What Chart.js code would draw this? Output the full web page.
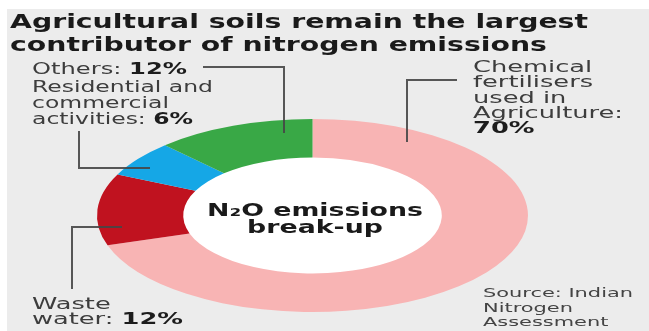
<!DOCTYPE html>
<html>
<head>
<meta charset="utf-8">
<script src="https://cdn.jsdelivr.net/npm/chart.js@4.4.1/dist/chart.umd.min.js"></script>
<style>
    html, body { margin: 0; padding: 0; background: #ffffff; }
    #wrap { position: relative; width: 649px; height: 331px; overflow: hidden; background: #ffffff; }
    #panel { position: absolute; left: 7px; top: 9px; right: 0; bottom: 0; background: #ececec; }
    #chartBox { position: absolute; left: 0; top: 0; width: 649px; height: 331px; }
    .txt { position: absolute; white-space: nowrap; font-family: "DejaVu Sans", sans-serif; color: #3d3d3d; transform-origin: 0 0; }
    .txt b { color: #1c1c1c; }
    .txt div { white-space: nowrap; }
</style>
</head>
<body>
<div id="wrap">
    <div id="panel"></div>
    <div id="chartBox"><canvas id="n2oChart"></canvas></div>
</div>
<script>
    // data
    const sliceNames = ["Chemical fertilisers used in Agriculture", "Waste water", "Residential and commercial activities", "Others"];
    const sliceShares = [70, 12, 6, 12];
    const sliceColors = ["#f8b4b4", "#c0121f", "#15a7e6", "#39a846"];
    const sliceLabelLines = [
        ["Chemical", "fertilisers", "used in", "Agriculture:", "{v}"],
        ["Waste", "water: {v}"],
        ["Residential and", "commercial", "activities: {v}"],
        ["Others: {v}"],
    ];
    const titleLines = ["Agricultural soils remain the largest", "contributor of nitrogen emissions"];
    const centerLines = ["N\u2082O emissions", "break-up"];
    const sourceLines = ["Source: Indian", "Nitrogen", "Assessment"];

    // the doughnut in the picture is squeezed into an ellipse
    const stretchX = 2.233;

    const wrap = document.getElementById("wrap");

    function addText(lines, opt) {
        const el = document.createElement("div");
        el.className = "txt";
        el.style.left = opt.left + "px";
        el.style.top = opt.top + "px";
        el.style.fontSize = opt.size + "px";
        el.style.lineHeight = opt.lineHeight + "px";
        el.style.fontWeight = opt.bold ? "bold" : "normal";
        el.style.textAlign = opt.align || "left";
        if (opt.color) el.style.color = opt.color;
        lines.forEach(function (line) {
            const row = document.createElement("div");
            row.innerHTML = line;
            el.appendChild(row);
        });
        wrap.appendChild(el);
        const natural = el.getBoundingClientRect().width;
        const k = opt.width / natural;
        if (opt.align === "center") {
            el.style.left = (opt.left - opt.width / 2) + "px";
        }
        el.style.transform = "scaleX(" + k + ")";
        return el;
    }

    function labelFor(i) {
        return sliceLabelLines[i].map(function (line) {
            return line.replace("{v}", "<b>" + sliceShares[i] + "%</b>");
        });
    }

    addText(titleLines, { left: 10, top: 10, size: 19, lineHeight: 23, bold: true, width: 578, color: "#1a1a1a" });
    addText(labelFor(3), { left: 32, top: 61, size: 15, lineHeight: 16, width: 155 });
    addText(labelFor(2), { left: 32, top: 78.5, size: 15, lineHeight: 16, width: 181 });
    addText(labelFor(0), { left: 473, top: 60.2, size: 15, lineHeight: 15.3, width: 150 });
    addText(labelFor(1), { left: 32, top: 297.3, size: 15, lineHeight: 15, width: 151 });
    addText(sourceLines, { left: 483, top: 286.3, size: 13, lineHeight: 14.5, width: 150, color: "#444444" });
    addText(centerLines, { left: 315, top: 201, size: 18.5, lineHeight: 17, bold: true, width: 216, align: "center", color: "#1a1a1a" });

    // leader lines from the labels into the ring
    const leaderLines = [
        [[203, 67], [284, 67], [284, 133]],
        [[79, 131], [79, 168], [150, 168]],
        [[122, 227], [72, 227], [72, 289]],
        [[457, 80], [407, 80], [407, 142]],
    ];

    const ellipsePlugin = {
        id: "ellipseRing",
        beforeDatasetsDraw: function (chart) {
            const arc = chart.getDatasetMeta(0).data[0];
            const ctx = chart.ctx;
            ctx.save();
            ctx.translate(arc.x, arc.y);
            ctx.scale(stretchX, 1);
            ctx.translate(-arc.x, -arc.y);
            ctx.fillStyle = "#ffffff";
            ctx.beginPath();
            ctx.arc(arc.x, arc.y, arc.innerRadius + 1, 0, Math.PI * 2);
            ctx.fill();
        },
        afterDatasetsDraw: function (chart) {
            const ctx = chart.ctx;
            ctx.restore();
            ctx.save();
            ctx.strokeStyle = "rgba(70, 70, 70, 0.9)";
            ctx.lineWidth = 2;
            leaderLines.forEach(function (pts) {
                ctx.beginPath();
                pts.forEach(function (p, j) {
                    if (j === 0) ctx.moveTo(p[0], p[1]);
                    else ctx.lineTo(p[0], p[1]);
                });
                ctx.stroke();
            });
            ctx.restore();
        },
    };

    const ctx = document.getElementById("n2oChart").getContext("2d");
    new Chart(ctx, {
        type: "doughnut",
        data: {
            labels: sliceNames,
            datasets: [
                {
                    data: sliceShares,
                    backgroundColor: sliceColors,
                    borderWidth: 0,
                    clip: false,
                },
            ],
        },
        options: {
            responsive: true,
            maintainAspectRatio: false,
            animation: false,
            events: [],
            cutout: "60%",
            layout: {
                padding: { left: 216, right: 240, top: 119, bottom: 19 },
            },
            plugins: {
                legend: { display: false },
                tooltip: { enabled: false },
            },
        },
        plugins: [ellipsePlugin],
    });
</script>
</body>
</html>
